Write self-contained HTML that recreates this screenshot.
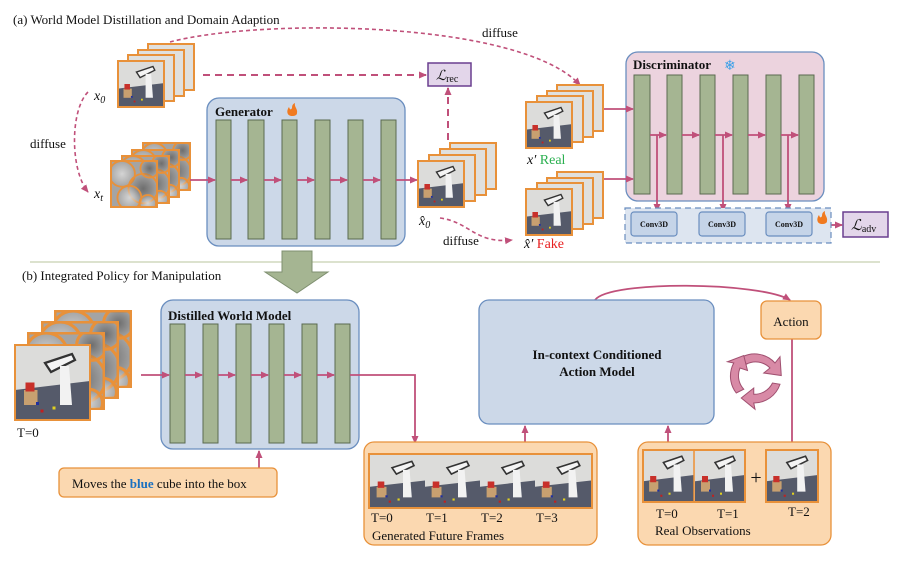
<!DOCTYPE html>
<html><head><meta charset="utf-8"><style>
html,body{margin:0;padding:0;background:#fff}
svg{display:block}
text{font-family:"Liberation Serif",serif;fill:#111}
</style></head><body>
<svg width="897" height="561" viewBox="0 0 897 561" xmlns="http://www.w3.org/2000/svg">
<defs>
<marker id="ah" markerWidth="8" markerHeight="8" refX="7" refY="4" orient="auto" markerUnits="userSpaceOnUse"><path d="M0,0.5 L8,4 L0,7.5 z" fill="#c0507a"/></marker>
<radialGradient id="gl"><stop offset="0" stop-color="#d4d4d4"/><stop offset="1" stop-color="#d4d4d4" stop-opacity="0"/></radialGradient>
<radialGradient id="gd"><stop offset="0" stop-color="#6e6e6e"/><stop offset="1" stop-color="#6e6e6e" stop-opacity="0"/></radialGradient>
<symbol id="sc" viewBox="0 0 50 50" preserveAspectRatio="none">
<rect width="50" height="50" fill="#dcdcda"/>
<path d="M0,30 L50,24 L50,50 L0,50z" fill="#555a6a"/>
<path d="M20,12 L38,6 L40,10 L24,18z" fill="#f4f4f4" stroke="#333" stroke-width="1.5"/>
<path d="M30,14 L36,14 L38,40 L30,40z" fill="#f2f2f2"/>
<rect x="6" y="30" width="9" height="10" fill="#c8a070"/><rect x="7" y="25" width="6" height="6" fill="#c8302a"/>
<rect x="14" y="38" width="2" height="2" fill="#2030a0"/><rect x="17" y="43" width="2" height="2" fill="#c02020"/><rect x="25" y="41" width="2" height="2" fill="#e0d020"/>
</symbol>
<symbol id="nz" viewBox="0 0 50 50" preserveAspectRatio="none">
<rect width="50" height="50" fill="#a4a4a4"/>
<circle cx="12" cy="14" r="14" fill="url(#gl)"/><circle cx="35" cy="30" r="16" fill="url(#gd)"/><circle cx="20" cy="40" r="13" fill="url(#gl)"/><circle cx="42" cy="8" r="10" fill="url(#gd)"/><circle cx="40" cy="46" r="9" fill="url(#gl)"/>
</symbol>
</defs>

<text x="13" y="24" font-size="13">(a) World Model Distillation and Domain Adaption</text>

<g stroke="#e8913a" stroke-width="2">
<rect x="148" y="44" width="46" height="46" fill="#e0e0de"/><rect x="138" y="50" width="46" height="46" fill="#e0e0de"/><rect x="128" y="55" width="46" height="46" fill="#e0e0de"/>
</g>
<svg x="118" y="61" width="46" height="46"><use href="#sc" width="46" height="46"/></svg>
<rect x="118" y="61" width="46" height="46" fill="none" stroke="#e8913a" stroke-width="2"/>
<text x="94" y="100" font-size="14" font-style="italic">x<tspan font-size="10" dy="3">0</tspan></text>

<path d="M88,92 C70,110 70,170 88,192" fill="none" stroke="#c0507a" stroke-width="1.6" stroke-dasharray="4,3" marker-end="url(#ah)"/>
<text x="30" y="148" font-size="13">diffuse</text>

<g stroke="#e8913a" stroke-width="2">
<svg x="143" y="143" width="47" height="47"><use href="#nz" width="47" height="47"/></svg><rect x="143" y="143" width="47" height="47" fill="none"/>
<svg x="132" y="150" width="47" height="47"><use href="#nz" width="47" height="47"/></svg><rect x="132" y="150" width="47" height="47" fill="none"/>
<svg x="122" y="156" width="47" height="47"><use href="#nz" width="47" height="47"/></svg><rect x="122" y="156" width="47" height="47" fill="none"/>
<svg x="111" y="161" width="46" height="46"><use href="#nz" width="46" height="46"/></svg><rect x="111" y="161" width="46" height="46" fill="none"/>
</g>
<text x="94" y="198" font-size="14" font-style="italic">x<tspan font-size="10" dy="3">t</tspan></text>

<rect x="207" y="98" width="198" height="148" rx="12" fill="#ccd8e8" stroke="#6a8ebf" stroke-width="1.3"/>
<text x="215" y="116" font-size="13" font-weight="bold">Generator</text>
<path d="M292,116 c-5,0 -6,-5 -3,-9 c1,3 2,3 3,1 c0,-3 1,-4 3,-5 c-1,4 3,6 2,10 c0,2 -2,3 -5,3z" fill="#f07a20"/>
<g fill="#a5b592" stroke="#5a6a50" stroke-width="1">
<rect x="216" y="120" width="15" height="119"/><rect x="248" y="120" width="16" height="119"/><rect x="282" y="120" width="15" height="119"/><rect x="315" y="120" width="15" height="119"/><rect x="348" y="120" width="15" height="119"/><rect x="381" y="120" width="15" height="119"/>
</g>
<g stroke="#c0507a" stroke-width="1.8" fill="none" marker-end="url(#ah)">
<path d="M190,180 H215"/><path d="M231,180 H247"/><path d="M264,180 H281"/><path d="M297,180 H314"/><path d="M330,180 H347"/><path d="M363,180 H380"/><path d="M396,180 H417"/>
</g>

<g stroke="#e8913a" stroke-width="2">
<rect x="450" y="143" width="46" height="46" fill="#e0e0de"/><rect x="440" y="149" width="46" height="46" fill="#e0e0de"/><rect x="429" y="155" width="46" height="46" fill="#e0e0de"/>
</g>
<svg x="418" y="161" width="46" height="46"><use href="#sc" width="46" height="46"/></svg>
<rect x="418" y="161" width="46" height="46" fill="none" stroke="#e8913a" stroke-width="2"/>
<text x="419" y="225" font-size="14" font-style="italic">x̂<tspan font-size="10" dy="3">0</tspan></text>

<rect x="428" y="63" width="43" height="23" fill="#e3d6ea" stroke="#6a3f8f" stroke-width="1.5"/>
<text x="436" y="80" font-size="14" font-style="italic">ℒ<tspan font-size="10" font-style="normal" dy="2">rec</tspan></text>
<path d="M203,75 H426" stroke="#c0507a" stroke-width="2" stroke-dasharray="7,5" fill="none" marker-end="url(#ah)"/>
<path d="M448,140 V88" stroke="#c0507a" stroke-width="2" stroke-dasharray="7,5" fill="none" marker-end="url(#ah)"/>
<path d="M170,42 C260,18 520,20 580,85" stroke="#c0507a" stroke-width="1.6" stroke-dasharray="4,3" fill="none" marker-end="url(#ah)"/>
<text x="482" y="37" font-size="13">diffuse</text>
<path d="M440,218 C470,222 475,244 512,240" stroke="#c0507a" stroke-width="1.6" stroke-dasharray="4,3" fill="none" marker-end="url(#ah)"/>
<text x="443" y="245" font-size="13">diffuse</text>

<g stroke="#e8913a" stroke-width="2">
<rect x="557" y="85" width="46" height="46" fill="#e0e0de"/><rect x="547" y="91" width="46" height="46" fill="#e0e0de"/><rect x="537" y="96" width="46" height="46" fill="#e0e0de"/>
</g>
<svg x="526" y="102" width="46" height="46"><use href="#sc" width="46" height="46"/></svg>
<rect x="526" y="102" width="46" height="46" fill="none" stroke="#e8913a" stroke-width="2"/>
<text x="527" y="164" font-size="14"><tspan font-style="italic">x′</tspan> <tspan style="fill:#2bb050">Real</tspan></text>

<g stroke="#e8913a" stroke-width="2">
<rect x="557" y="172" width="46" height="46" fill="#e0e0de"/><rect x="547" y="178" width="46" height="46" fill="#e0e0de"/><rect x="537" y="183" width="46" height="46" fill="#e0e0de"/>
</g>
<svg x="526" y="189" width="46" height="46"><use href="#sc" width="46" height="46"/></svg>
<rect x="526" y="189" width="46" height="46" fill="none" stroke="#e8913a" stroke-width="2"/>
<text x="524" y="248" font-size="14"><tspan font-style="italic">x̂′</tspan> <tspan style="fill:#e82020">Fake</tspan></text>

<rect x="626" y="52" width="198" height="149" rx="12" fill="#ecd3de" stroke="#6a8ebf" stroke-width="1.3"/>
<text x="633" y="69" font-size="13" font-weight="bold">Discriminator</text>
<text x="724" y="70" font-size="14" style="fill:#3aa0e8">❄</text>
<g fill="#a5b592" stroke="#5a6a50" stroke-width="1">
<rect x="634" y="75" width="16" height="119"/><rect x="667" y="75" width="15" height="119"/><rect x="700" y="75" width="15" height="119"/><rect x="733" y="75" width="15" height="119"/><rect x="766" y="75" width="15" height="119"/><rect x="799" y="75" width="15" height="119"/>
</g>
<g stroke="#c0507a" stroke-width="1.8" fill="none" marker-end="url(#ah)">
<path d="M604,109 H633"/><path d="M604,179 H633"/>
<path d="M650,135 H666"/><path d="M682,135 H699"/><path d="M715,135 H732"/><path d="M748,135 H765"/><path d="M781,135 H798"/>
<path d="M657,135 V211"/><path d="M723,135 V211"/><path d="M788,135 V211"/>
<path d="M826,225 H842"/>
</g>
<rect x="625" y="208" width="206" height="35" fill="#dde5f0" stroke="#6a8ebf" stroke-width="1.2" stroke-dasharray="6,4"/>
<g fill="#c5d4e8" stroke="#6a8ebf" stroke-width="1.2">
<rect x="631" y="212" width="46" height="24" rx="3"/><rect x="699" y="212" width="46" height="24" rx="3"/><rect x="766" y="212" width="46" height="24" rx="3"/>
</g>
<g font-size="8" font-weight="bold" text-anchor="middle"><text x="654" y="227">Conv3D</text><text x="722" y="227">Conv3D</text><text x="789" y="227">Conv3D</text></g>
<path d="M822,224 c-5,0 -6,-5 -3,-9 c1,3 2,3 3,1 c0,-3 1,-4 3,-5 c-1,4 3,6 2,10 c0,2 -2,3 -5,3z" fill="#f07a20"/>
<rect x="843" y="212" width="45" height="25" fill="#e3d6ea" stroke="#6a3f8f" stroke-width="1.5"/>
<text x="851" y="230" font-size="15" font-style="italic">ℒ<tspan font-size="10" font-style="normal" dy="2">adv</tspan></text>

<path d="M30,262 H880" stroke="#c8d0b0" stroke-width="1.3"/>
<path d="M282,251 H312 V272 H328 L297,293 L265,272 H282z" fill="#a5b592" stroke="#7f9070" stroke-width="1"/>

<text x="22" y="280" font-size="13">(b) Integrated Policy for Manipulation</text>

<g stroke="#e8913a" stroke-width="2">
<svg x="55" y="311" width="76" height="76"><use href="#nz" width="76" height="76"/></svg><rect x="55" y="311" width="76" height="76" fill="none"/>
<svg x="42" y="322" width="76" height="76"><use href="#nz" width="76" height="76"/></svg><rect x="42" y="322" width="76" height="76" fill="none"/>
<svg x="28" y="333" width="76" height="76"><use href="#nz" width="76" height="76"/></svg><rect x="28" y="333" width="76" height="76" fill="none"/>
</g>
<svg x="15" y="345" width="75" height="75"><use href="#sc" width="75" height="75"/></svg>
<rect x="15" y="345" width="75" height="75" fill="none" stroke="#e8913a" stroke-width="2"/>
<text x="17" y="437" font-size="13">T=0</text>

<rect x="161" y="300" width="198" height="149" rx="12" fill="#ccd8e8" stroke="#6a8ebf" stroke-width="1.3"/>
<text x="168" y="320" font-size="13" font-weight="bold">Distilled World Model</text>
<g fill="#a5b592" stroke="#5a6a50" stroke-width="1">
<rect x="170" y="324" width="15" height="119"/><rect x="203" y="324" width="15" height="119"/><rect x="236" y="324" width="15" height="119"/><rect x="269" y="324" width="15" height="119"/><rect x="302" y="324" width="15" height="119"/><rect x="335" y="324" width="15" height="119"/>
</g>
<g stroke="#c0507a" stroke-width="1.8" fill="none" marker-end="url(#ah)">
<path d="M141,375 H169"/><path d="M185,375 H202"/><path d="M218,375 H235"/><path d="M251,375 H268"/><path d="M284,375 H301"/><path d="M317,375 H334"/>
<path d="M350,375 H415 V443"/>
<path d="M259,468 V451"/>
<path d="M525,442 V426"/><path d="M668,442 V426"/>
<path d="M792,339 V450"/>
<path d="M595,300 C610,280 760,282 790,300"/>
</g>

<rect x="59" y="468" width="218" height="29" rx="5" fill="#fbd8b0" stroke="#e8913a" stroke-width="1.3"/>
<text x="72" y="488" font-size="13">Moves the <tspan font-weight="bold" style="fill:#1a70c0">blue</tspan> cube into the box</text>

<rect x="364" y="442" width="233" height="103" rx="10" fill="#fbd8b0" stroke="#e8913a" stroke-width="1.3"/>
<svg x="370" y="455" width="55" height="53"><use href="#sc" width="55" height="53"/></svg>
<svg x="425" y="455" width="55" height="53"><use href="#sc" width="55" height="53"/></svg>
<svg x="480" y="455" width="55" height="53"><use href="#sc" width="55" height="53"/></svg>
<svg x="535" y="455" width="56" height="53"><use href="#sc" width="56" height="53"/></svg>
<rect x="369" y="454" width="223" height="54" fill="none" stroke="#e8913a" stroke-width="2"/>
<g font-size="13"><text x="371" y="522">T=0</text><text x="426" y="522">T=1</text><text x="481" y="522">T=2</text><text x="536" y="522">T=3</text></g>
<text x="372" y="540" font-size="13">Generated Future Frames</text>

<rect x="479" y="300" width="235" height="124" rx="10" fill="#ccd8e8" stroke="#6a8ebf" stroke-width="1.3"/>
<text x="597" y="359" font-size="13" font-weight="bold" text-anchor="middle">In-context Conditioned</text>
<text x="597" y="376" font-size="13" font-weight="bold" text-anchor="middle">Action Model</text>

<rect x="761" y="301" width="60" height="38" rx="6" fill="#fbd8b0" stroke="#e8913a" stroke-width="1.3"/>
<text x="791" y="326" font-size="13" text-anchor="middle">Action</text>

<g transform="translate(755,378) scale(1.25) translate(-755,-378)">
<g fill="#d88aa6" stroke="#a05070" stroke-width="0.8">
<path d="M745,361 A22,22 0 0 1 771,366 L775,361 L776,376 L762,374 L767,370 A16,16 0 0 0 748,367z"/>
<path d="M775,383 A22,22 0 0 1 754,398 L755,403 L744,394 L754,386 L754,391 A16,16 0 0 0 769,382z"/>
<path d="M740,390 A22,22 0 0 1 738,366 L733,365 L746,360 L749,372 L743,370 A16,16 0 0 0 746,387z"/>
</g></g>

<rect x="638" y="442" width="193" height="103" rx="10" fill="#fbd8b0" stroke="#e8913a" stroke-width="1.3"/>
<svg x="643" y="450" width="51" height="52"><use href="#sc" width="51" height="52"/></svg>
<svg x="695" y="450" width="50" height="52"><use href="#sc" width="50" height="52"/></svg>
<rect x="643" y="450" width="102" height="52" fill="none" stroke="#e8913a" stroke-width="2"/>
<path d="M694,450 V502" stroke="#e8913a" stroke-width="1.5"/>
<text x="756" y="484" font-size="20" text-anchor="middle">+</text>
<svg x="766" y="450" width="52" height="52"><use href="#sc" width="52" height="52"/></svg>
<rect x="766" y="450" width="52" height="52" fill="none" stroke="#e8913a" stroke-width="2"/>
<g font-size="13"><text x="656" y="518">T=0</text><text x="717" y="518">T=1</text><text x="788" y="516">T=2</text></g>
<text x="655" y="535" font-size="13">Real Observations</text>
</svg>
</body></html>
